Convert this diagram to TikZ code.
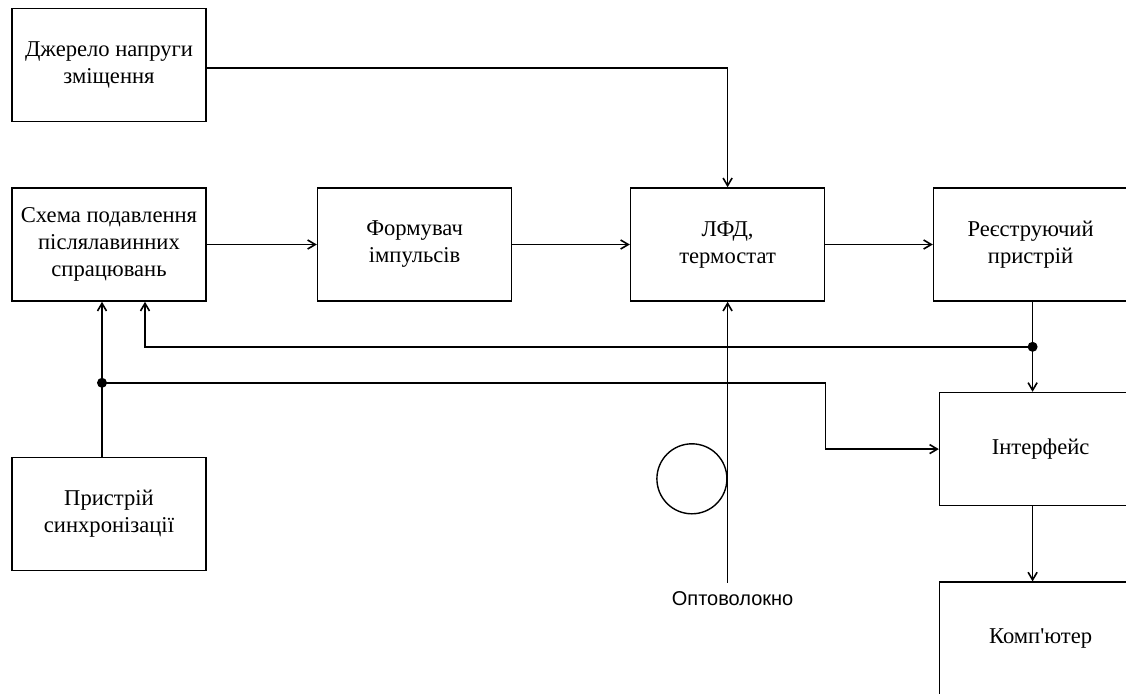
\documentclass[tikz,border=0pt]{standalone}
\usepackage{fontspec}
\setmainfont{Liberation Serif}
\newfontfamily\fibersans{Liberation Sans}
\usepackage{tikz}
\usetikzlibrary{
  arrows.meta,
  positioning,
  calc
}
\tikzset{
  blockbox/.style={
    draw,
    line width=0.8pt,
    align=center,
    minimum height=56.5pt,
    minimum width=97pt,
    inner sep=2pt,
    font=\fontsize{11.3}{13.5}\selectfont
  },
  widebox/.style={blockbox,minimum width=101pt},
  coilring/.style={circle,draw,line width=0.7pt,minimum size=35pt,inner sep=0pt},
  sigarrow/.style={-{Straight Barb[length=3.8pt,width=4.5pt]},line width=0.8pt},
  sigline/.style={line width=0.8pt},
  joint/.style={circle,fill,inner sep=0pt,minimum size=5pt}
}

\begin{document}
\begin{tikzpicture}[node distance=32.5pt and 55pt,x=0.5pt,y=-0.5pt]
  \useasboundingbox (0,0) rectangle (1126,693);
  \clip (0,0) rectangle (1126,693);
  \node[blockbox] (supp) at (109,244.5) {Схема подавлення\\післялавинних\\спрацювань};
  \node[blockbox,above=of supp] (bias) {\raisebox{-3pt}{\shortstack{Джерело напруги\\[1pt]зміщення}}};
  \node[blockbox,right=of supp] (shaper) {Формувач\\імпульсів};
  \node[blockbox,right=58.7pt of shaper] (lfd) {ЛФД,\\термостат};
  \node[blockbox,right=53.7pt of lfd] (reg) {Реєструючий\\пристрій};
  \node[widebox,anchor=north west] (iface) at ([xshift=3pt,yshift=-45pt]reg.south west) {Інтерфейс};
  \node[widebox,below=37.5pt of iface] (pc) {Комп\textquotesingle ютер};
  \node[blockbox,below=77.5pt of supp] (sync) {Пристрій\\синхронізації};
  % junctions and fibre end
  \coordinate (rj) at ([xshift=1pt,yshift=-22.5pt]reg.south);
  \coordinate (sj) at ([xshift=-3.5pt,yshift=-40.5pt]supp.south);
  \coordinate (fb) at ([xshift=18pt]supp.south);
  \coordinate (fend) at ([yshift=-140.5pt]lfd.south);
  \node[coilring,anchor=east] (coil) at ([yshift=-88.5pt]lfd.south) {};
  \node[below=4pt of fend,xshift=2.5pt,inner sep=0pt,font=\fibersans\fontsize{10}{12}\selectfont] (fiber) {Оптоволокно};
  \draw[sigarrow] ([yshift=-1.5pt]bias.east) -| (lfd.north);
  \draw[sigarrow] (supp) -- (shaper);
  \draw[sigarrow] (shaper) -- (lfd);
  \draw[sigarrow] (lfd) -- (reg);
  \draw[sigline] (reg.south -| rj) -- (rj);
  \draw[sigarrow] (rj) -- (rj |- iface.north);
  \draw[sigarrow] (rj) -| (fb |- supp.south);
  \draw[sigarrow] (sync.north -| sj) -- (supp.south -| sj);
  \draw[sigarrow] (sj) -| (lfd.east |- iface.west) -- (iface.west);
  \draw[sigarrow] (iface.south -| rj) -- (pc.north -| rj);
  \draw[sigarrow] (fend) -- (lfd.south);
  \node[joint] (rdot) at (rj) {};
  \node[joint] (sdot) at (sj) {};
\end{tikzpicture}
\end{document}
